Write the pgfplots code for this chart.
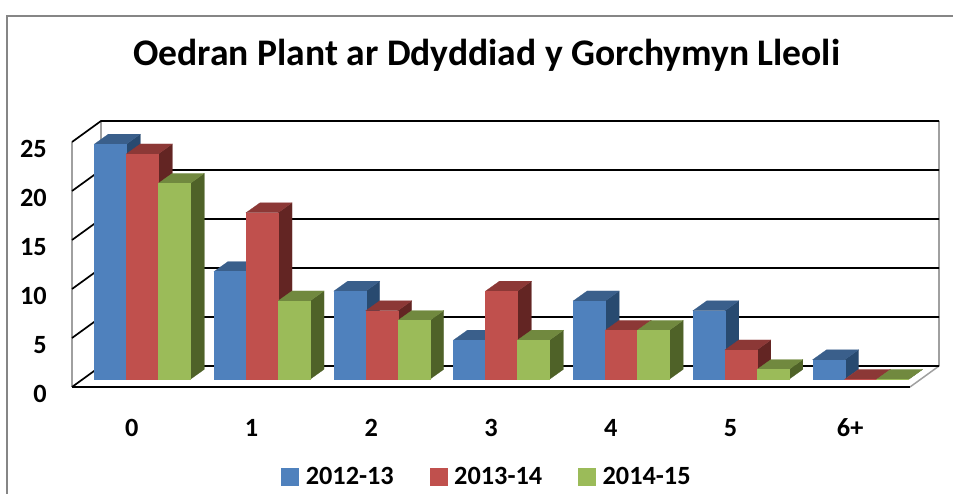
\documentclass[border=0pt]{standalone}
\usepackage{pgfplots}
\pgfplotsset{compat=1.18}
\usepackage{fontspec}
\setmainfont{Carlito}
\definecolor{bluef}{HTML}{4F81BD}\definecolor{bluet}{HTML}{3A5F8B}\definecolor{blues}{HTML}{284A70}
\definecolor{redf}{HTML}{C0504D}\definecolor{redt}{HTML}{8C3836}\definecolor{reds}{HTML}{632523}
\definecolor{greenf}{HTML}{9BBB59}\definecolor{greent}{HTML}{71893F}\definecolor{greens}{HTML}{4F6228}
\definecolor{wallg}{HTML}{A0A0A0}\definecolor{frameg}{HTML}{868686}
% depth of the bars and walls in axis units
\def\ddx{0.117}\def\ddy{1.02}
\def\wdx{0.2423}\def\wdy{2.143}
% category index, series index, value, colour stem
\newcommand{\threedbar}[4]{%
  \pgfmathsetmacro{\xa}{#1-0.5+22.3/119.7+#2*0.2673}%
  \pgfmathsetmacro{\xb}{\xa+0.2673}%
  \pgfmathsetmacro{\xc}{\xa+\ddx}%
  \pgfmathsetmacro{\xd}{\xb+\ddx}%
  \pgfmathsetmacro{\ya}{0.78}%
  \pgfmathsetmacro{\yb}{0.78+#3}%
  \pgfmathsetmacro{\yc}{\yb+\ddy}%
  \pgfmathsetmacro{\yd}{\ya+\ddy}%
  \addplot[forget plot,no marks,fill=#4s,draw=#4s,line width=0.2pt] coordinates {(\xb,\ya) (\xd,\yd) (\xd,\yc) (\xb,\yb)} -- cycle;
  \addplot[forget plot,no marks,fill=#4t,draw=#4t,line width=0.2pt] coordinates {(\xa,\yb) (\xb,\yb) (\xd,\yc) (\xc,\yc)} -- cycle;
  \addplot[forget plot,no marks,fill=#4f,draw=#4f,line width=0.2pt] coordinates {(\xa,\ya) (\xb,\ya) (\xb,\yb) (\xa,\yb)} -- cycle;
}
\newcommand{\wallgrid}[1]{%
  \pgfmathsetmacro{\gy}{#1+\wdy}%
  \addplot[forget plot,no marks,black,line width=1.7bp] coordinates {(-0.5,#1) (-0.5+\wdx,\gy) (6.5+\wdx,\gy)};
}
\begin{document}
\begin{tikzpicture}[x=1bp,y=1bp]
\useasboundingbox (0,0) rectangle (953,494);
\draw[frameg,line width=1.5bp] (7,0) -- (7,478) -- (953,478);
\begin{axis}[
  at={(72bp,107bp)},anchor=south west,
  scale only axis,width=838bp,height=245bp,
  xmin=-0.5,xmax=6.5,ymin=0,ymax=25,
  clip=false,
  axis line style={draw=none},
  major tick length=0pt,
  tick style={draw=none},
  xtick={0,1,2,3,4,5,6},
  xticklabels={0,1,2,3,4,5,6+},
  ytick={0,5,10,15,20,25},
  /pgf/number format/assume math mode=true,
  tick label style={font=\fontsize{26.4}{26.4}\selectfont\bfseries},
  yticklabel style={anchor=east,inner sep=0pt,xshift=-25bp,yshift=-7bp},
  xticklabel style={anchor=base,inner sep=0pt,yshift=-50bp},
  title={Oedran Plant ar Ddyddiad y Gorchymyn Lleoli},
  title style={at={(0.495,1.289)},anchor=base,inner sep=0pt,font=\fontsize{37.7}{37.7}\selectfont\bfseries},
  legend columns=3,
  legend style={at={(0.2496,-0.365)},anchor=west,draw=none,fill=none,inner sep=0pt,
    font=\fontsize{26.4}{26.4}\selectfont\bfseries,
    /tikz/every odd column/.append style={column sep=5bp},
    /tikz/every even column/.append style={column sep=34bp}},
  legend cell align=left,
]
% walls: grey verticals
\addplot[forget plot,no marks,wallg,line width=1.5bp] coordinates {(-0.5,0) (-0.5,25)};
\addplot[forget plot,no marks,wallg,line width=1.5bp] coordinates {(-0.2577,2.143) (-0.2577,27.143)};
\addplot[forget plot,no marks,wallg,line width=1.5bp] coordinates {(6.7423,2.143) (6.7423,27.143)};
\addplot[forget plot,no marks,wallg,line width=1.5bp] coordinates {(6.5,0) (6.7423,2.143)};
% grid
\wallgrid{0}\wallgrid{5}\wallgrid{10}\wallgrid{15}\wallgrid{20}\wallgrid{25}
\addplot[forget plot,no marks,black,line width=1.7bp] coordinates {(-0.5,0) (6.5,0)};
% bars
\threedbar{0}{0}{24}{blue}\threedbar{0}{1}{23}{red}\threedbar{0}{2}{20}{green}
\threedbar{1}{0}{11}{blue}\threedbar{1}{1}{17}{red}\threedbar{1}{2}{8}{green}
\threedbar{2}{0}{9}{blue}\threedbar{2}{1}{7}{red}\threedbar{2}{2}{6}{green}
\threedbar{3}{0}{4}{blue}\threedbar{3}{1}{9}{red}\threedbar{3}{2}{4}{green}
\threedbar{4}{0}{8}{blue}\threedbar{4}{1}{5}{red}\threedbar{4}{2}{5}{green}
\threedbar{5}{0}{7}{blue}\threedbar{5}{1}{3}{red}\threedbar{5}{2}{1}{green}
\threedbar{6}{0}{2}{blue}\threedbar{6}{1}{0}{red}\threedbar{6}{2}{0}{green}
% legend
\addlegendimage{legend image code/.code={\fill[bluef] (0,-8.5bp) rectangle (17bp,8.5bp);}}
\addlegendentry{2012-13}
\addlegendimage{legend image code/.code={\fill[redf] (0,-8.5bp) rectangle (17bp,8.5bp);}}
\addlegendentry{2013-14}
\addlegendimage{legend image code/.code={\fill[greenf] (0,-8.5bp) rectangle (17bp,8.5bp);}}
\addlegendentry{2014-15}
\end{axis}
\end{tikzpicture}
\end{document}
